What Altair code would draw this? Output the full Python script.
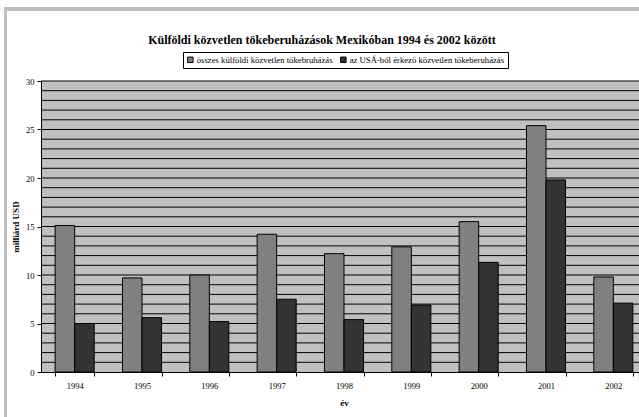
import altair as alt
import pandas as pd

# Foreign direct investment in Mexico, billion USD
years = ["1994", "1995", "1996", "1997", "1998", "1999", "2000", "2001", "2002"]
total_fdi = [15.1, 9.7, 10.0, 14.2, 12.2, 12.9, 15.5, 25.4, 9.8]
usa_fdi = [5.0, 5.6, 5.2, 7.5, 5.4, 6.9, 11.3, 19.8, 7.1]
series_names = [
    "összes külföldi közvetlen tökebruházás",
    "az USÁ-ból érkezö közvetlen tökeberuházás",
]
series_colors = ["#808080", "#333333"]
grid_levels = list(range(1, 31))
chart_title = ["Külföldi közvetlen tökeberuházások Mexikóban 1994 és 2002 között"]

rows = []
for y, t, u in zip(years, total_fdi, usa_fdi):
    rows.append({"ev": y, "sorozat": series_names[0], "ertek": t})
    rows.append({"ev": y, "sorozat": series_names[1], "ertek": u})
df = pd.DataFrame(rows)
grid_df = pd.DataFrame({"szint": grid_levels})
title_df = pd.DataFrame({"cim": chart_title})

FONT = "Liberation Serif"
W, H = 598, 291

y_scale = alt.Scale(domain=[0, 30], nice=False)
y_axis = alt.Axis(
    title="milliárd USD",
    values=[0, 5, 10, 15, 20, 25, 30],
    grid=False,
    tickSize=4,
    tickColor="#000000",
    domainColor="#000000",
    labelFont=FONT,
    labelFontSize=8.5,
    labelColor="#000000",
    labelPadding=3,
    titleFont=FONT,
    titleFontSize=9,
    titleFontWeight="bold",
    titleColor="#000000",
    titlePadding=5,
)

# horizontal guide lines at every unit
grid = alt.Chart(grid_df).mark_rule(color="#000000", strokeWidth=1).encode(
    y=alt.Y("szint:Q", scale=y_scale, axis=y_axis)
)

bars = alt.Chart(df).mark_bar(stroke="#000000", strokeWidth=1).encode(
    x=alt.X(
        "ev:N",
        sort=years,
        scale=alt.Scale(range=[0, 606], paddingInner=0.42, paddingOuter=0.21),
        axis=alt.Axis(
            title="év",
            labelAngle=0,
            tickBand="extent",
            tickSize=4,
            tickColor="#000000",
            domainColor="#000000",
            labelFont=FONT,
            labelFontSize=8.5,
            labelColor="#000000",
            labelPadding=5,
            titleFont=FONT,
            titleFontSize=9,
            titleFontWeight="bold",
            titleColor="#000000",
            titlePadding=9,
        ),
    ),
    xOffset=alt.XOffset("sorozat:N", sort=series_names, scale=alt.Scale(paddingInner=0, paddingOuter=0)),
    y=alt.Y("ertek:Q", scale=y_scale, axis=y_axis),
    color=alt.Color(
        "sorozat:N",
        sort=series_names,
        scale=alt.Scale(domain=series_names, range=series_colors),
        legend=alt.Legend(
            title=None,
            orient="none",
            legendX=142,
            legendY=-29,
            direction="horizontal",
            columns=2,
            columnPadding=5,
            symbolType="square",
            symbolSize=30,
            symbolStrokeColor="#000000",
            symbolStrokeWidth=1,
            symbolOpacity=1,
            labelFont=FONT,
            labelFontSize=8.7,
            labelColor="#000000",
            labelLimit=400,
            labelOffset=2,
            strokeColor="#000000",
            padding=3,
        ),
    ),
)

# chart heading
heading = alt.Chart(title_df).mark_text(
    font=FONT, fontSize=12, fontWeight="bold", color="#000000", align="center", baseline="alphabetic"
).encode(text="cim:N", x=alt.value(281), y=alt.value(-37))

# grey outer frame of the chart area
frame_left = alt.Chart(grid_df).mark_rule(color="#c0c0c0", strokeWidth=3).encode(
    x=alt.value(-35.5), y=alt.value(-73), y2=alt.value(H + 60)
)
frame_top = alt.Chart(grid_df).mark_rule(color="#c0c0c0", strokeWidth=3).encode(
    x=alt.value(-37), x2=alt.value(W + 20), y=alt.value(-72)
)

chart = (
    alt.layer(grid, bars, heading, frame_left, frame_top)
    .properties(
        width=W,
        height=H,
        autosize=alt.AutoSizeParams(type="none"),
        padding={"left": 41, "top": 81, "right": 0, "bottom": 45},
        background="#ffffff",
    )
    .configure_view(fill="#c0c0c0", stroke=None)
)

chart.save("out.html", embed_options={"renderer": "svg", "actions": False})
